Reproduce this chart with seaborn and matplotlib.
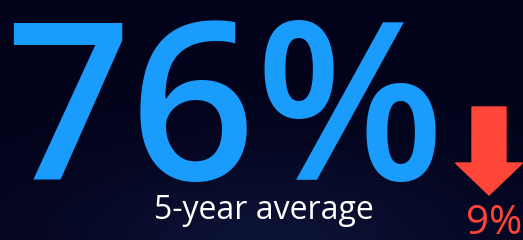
import seaborn as sns
from matplotlib import pyplot as plt
from matplotlib.colors import LinearSegmentedColormap
import numpy as np

# stat panel values
main_value = 76
main_unit = "%"
caption = "5-year average"
change_value = 9
change_unit = "%"
change_direction = "down"

sns.set_theme(style="dark", rc={"axes.facecolor": "#02021a", "figure.facecolor": "#02021a"})
plt.rcParams['font.family'] = ['Open Sans', 'DejaVu Sans']

fig = plt.figure(figsize=(5.23, 2.40), dpi=100)
ax = fig.add_axes([0, 0, 1, 1])
ax.set_xlim(0, 523)
ax.set_ylim(0, 240)
ax.axis("off")

# subtle background glow towards the bottom centre
yy, xx = np.mgrid[0:240, 0:523]
glow = np.exp(-((xx - 270) / 230.0) ** 2 - ((yy - 0) / 90.0) ** 2)
bg = LinearSegmentedColormap.from_list("bg", ["#02021a", "#0c1234"])
ax.imshow(glow, extent=(0, 523, 0, 240), origin="lower", cmap=bg,
          vmin=0, vmax=1, aspect="auto", zorder=0)

blue = "#1a9cfc"
red = "#ff4438"

ax.text(225, 60, f"{main_value}{main_unit}", color=blue, fontsize=158, fontweight="semibold",
        ha="center", va="baseline", zorder=2)
ax.text(264, 21, caption, color="white", fontsize=23, ha="center", va="baseline", zorder=2)

if change_direction == "down":
    ax.arrow(489, 133, 0, -88, width=34, head_width=67, head_length=32,
             length_includes_head=True, color=red, zorder=2)
ax.text(494, 6, f"{change_value}{change_unit}", color=red, fontsize=29, ha="center", va="baseline", zorder=2)

fig.savefig("out.png", dpi=100, facecolor=fig.get_facecolor())
